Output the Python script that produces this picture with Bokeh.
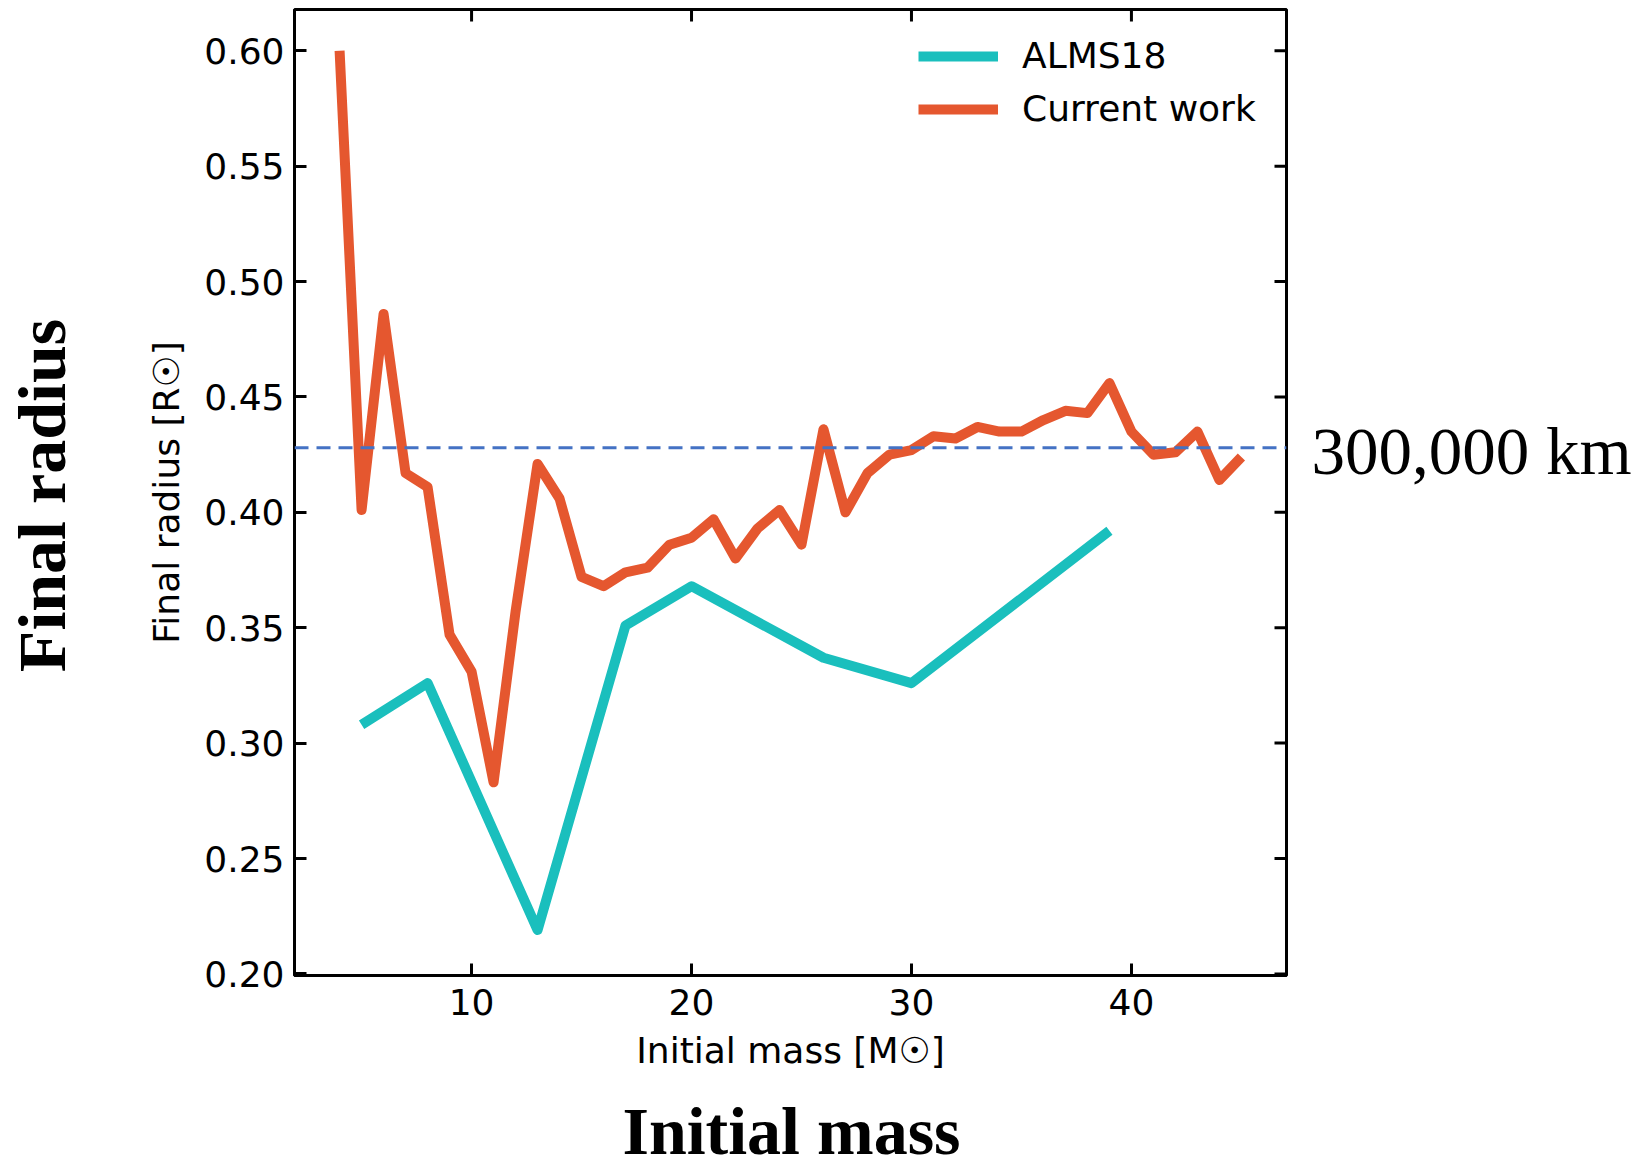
import math

from bokeh.plotting import figure
from bokeh.layouts import column, row
from bokeh.models import (Range1d, FixedTicker, PrintfTickFormatter, Span,
                          Legend, LegendItem)
from bokeh.core.properties import value
from bokeh.embed import file_html
from bokeh.resources import INLINE

# ALMS18 final radii [R_sun] against initial mass [M_sun]
alms_mass = [5, 8, 13, 17, 20, 26, 30, 39]
alms_radius = [0.308, 0.326, 0.219, 0.351, 0.368, 0.337, 0.326, 0.392]

# Current work final radii [R_sun]
cw_mass = [4, 5, 6, 7, 8, 9, 10, 11, 12, 13, 14, 15, 16, 17, 18, 19, 20, 21, 22, 23, 24,
           25, 26, 27, 28, 29, 30, 31, 32, 33, 34, 35, 36, 37, 38, 39, 40, 41, 42, 43, 44, 45]
cw_radius = [0.600, 0.401, 0.486, 0.417, 0.411, 0.347, 0.331, 0.283, 0.357, 0.421, 0.406,
             0.372, 0.368, 0.374, 0.376, 0.386, 0.389, 0.397, 0.380, 0.393, 0.401, 0.386,
             0.436, 0.400, 0.417, 0.425, 0.427, 0.433, 0.432, 0.437, 0.435, 0.435, 0.440,
             0.444, 0.443, 0.456, 0.435, 0.425, 0.426, 0.435, 0.414, 0.424]

# 300,000 km expressed in solar radii
ref_radius = 0.428
ref_text = "300,000 km"

x_ticks = [10, 20, 30, 40]
y_ticks = [0.20, 0.25, 0.30, 0.35, 0.40, 0.45, 0.50, 0.55, 0.60]

TEAL = "#1ABFBD"
ORANGE = "#E5572F"
BLUE = "#4472C4"
SANS = "DejaVu Sans"
SERIF = "Liberation Serif"

# page geometry: a row (side label | chart | reference label) above a caption strip
LEFT_W, MAIN_W, RIGHT_W = 130, 1166, 348
TOP_H, BOTTOM_H = 1100, 62
BORDER_TOP, BORDER_BOTTOM = 9, 125

x_range = Range1d(1.95, 47.05)
y_range = Range1d(0.1993, 0.6179)

p = figure(width=MAIN_W, height=TOP_H, output_backend="svg", toolbar_location=None,
           x_range=x_range, y_range=y_range,
           min_border_left=164, min_border_right=10, min_border_top=BORDER_TOP,
           min_border_bottom=BORDER_BOTTOM, background_fill_color="white",
           border_fill_color="white")
p.xgrid.visible = False
p.ygrid.visible = False
p.outline_line_color = "black"
p.outline_line_width = 3

for ax in (p.xaxis[0], p.yaxis[0]):
    ax.axis_line_width = 3
    ax.axis_line_color = "black"
    ax.major_tick_in = 12
    ax.major_tick_out = 0
    ax.major_tick_line_width = 3
    ax.major_tick_line_color = "black"
    ax.minor_tick_line_color = None
    ax.major_label_text_font = SANS
    ax.major_label_text_font_size = "36px"
    ax.major_label_text_color = "black"
    ax.axis_label_text_font = SANS
    ax.axis_label_text_font_style = "normal"
    ax.axis_label_text_font_size = "36px"
    ax.axis_label_text_color = "black"

xb = p.xaxis[0]
yl = p.yaxis[0]
xb.ticker = FixedTicker(ticks=x_ticks)
yl.ticker = FixedTicker(ticks=y_ticks)
yl.formatter = PrintfTickFormatter(format="%.2f")
xb.axis_label = "Initial mass [M☉]"
yl.axis_label = "Final radius [R☉]"
xb.major_label_standoff = 13
yl.major_label_standoff = 10
xb.axis_label_standoff = 12
yl.axis_label_standoff = 14

# inward ticks mirrored on the top and right edges of the frame
p.ray(x=x_ticks, y=[y_range.end] * len(x_ticks), length=12, length_units="screen",
      angle=-math.pi / 2, line_color="black", line_width=3)
p.ray(x=[x_range.end] * len(y_ticks), y=y_ticks, length=12, length_units="screen",
      angle=math.pi, line_color="black", line_width=3)

r_alms = p.line(alms_mass, alms_radius, line_color=TEAL, line_width=10,
                line_cap="butt", line_join="round")
r_cw = p.line(cw_mass, cw_radius, line_color=ORANGE, line_width=10,
              line_cap="butt", line_join="round")

p.add_layout(Span(location=ref_radius, dimension="width", line_color=BLUE,
                  line_width=3, line_dash="14 8"))

legend = Legend(items=[LegendItem(label="ALMS18", renderers=[r_alms]),
                       LegendItem(label="Current work", renderers=[r_cw])],
                location=(624, 846), orientation="vertical",
                glyph_width=80, glyph_height=40, label_height=40, spacing=12,
                label_standoff=24, padding=0, margin=0,
                border_line_alpha=0, background_fill_alpha=0,
                label_text_font=SANS, label_text_font_size="36px",
                label_text_color="black")
p.add_layout(legend)


def blank_panel(width, height, x_rng, y_rng, top=0, bottom=0):
    f = figure(width=width, height=height, output_backend="svg", toolbar_location=None,
               x_range=x_rng, y_range=y_rng, x_axis_location=None,
               y_axis_location=None, min_border_left=0, min_border_right=0,
               min_border_top=top, min_border_bottom=bottom,
               background_fill_color="white", border_fill_color="white")
    f.outline_line_color = None
    f.grid.visible = False
    return f


# big vertical caption on the left, centred on the chart's radius scale
left = blank_panel(LEFT_W, TOP_H, Range1d(0, LEFT_W), y_range,
                   top=BORDER_TOP, bottom=BORDER_BOTTOM)
left.text(x=[41], y=[(y_range.start + y_range.end) / 2 - 0.0013], text=["Final radius"],
          angle=math.pi / 2, text_font=value(SERIF), text_font_style=value("bold"),
          text_font_size=value("68px"), text_align=value("center"),
          text_baseline=value("alphabetic"), text_color="black")

# reference-line label, sharing the chart's radius scale
right = blank_panel(RIGHT_W, TOP_H, Range1d(0, RIGHT_W), y_range,
                    top=BORDER_TOP, bottom=BORDER_BOTTOM)
right.text(x=[15], y=[ref_radius], text=[ref_text], y_offset=3,
           text_font=value(SERIF), text_font_style=value("normal"),
           text_font_size=value("67px"), text_align=value("left"),
           text_baseline=value("middle"), text_color="black")

# big caption below
bottom = blank_panel(LEFT_W + MAIN_W + RIGHT_W, BOTTOM_H,
                     Range1d(0, LEFT_W + MAIN_W + RIGHT_W), Range1d(0, BOTTOM_H))
bottom.text(x=[791], y=[32], text=["Initial mass"],
            text_font=value(SERIF), text_font_style=value("bold"),
            text_font_size=value("68px"), text_align=value("center"),
            text_baseline=value("alphabetic"), text_color="black")

layout = column(row(left, p, right, spacing=0), bottom, spacing=0)

open("out.html", "w").write(file_html(layout, INLINE))
